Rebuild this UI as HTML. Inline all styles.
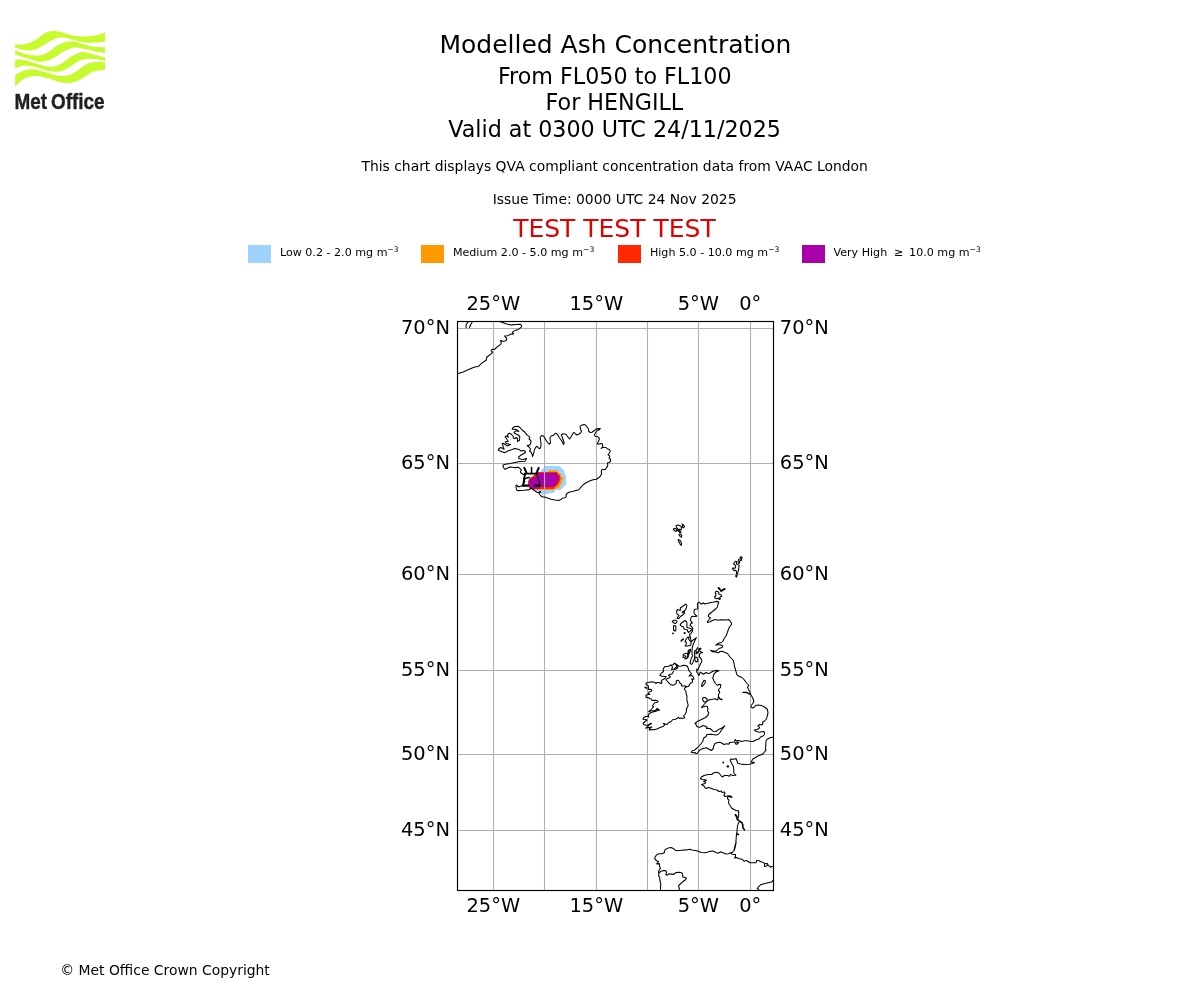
<!DOCTYPE html>
<html lang="en"><head><meta charset="utf-8"><title>Modelled Ash Concentration</title>
<style>html,body{margin:0;padding:0;background:#fff}body{width:1200px;height:1000px;overflow:hidden}svg{display:block}text{font-family:'DejaVu Sans','Liberation Sans',sans-serif;fill:#000}</style>
</head><body>
<svg width="1200" height="1000" viewBox="0 0 1200 1000">
<rect width="1200" height="1000" fill="#fff"/>
<g fill="#c7fb2e">
<path d="M15.17 43.92 C16.39 44.01 19.19 45.12 22.50 44.50 C25.81 43.88 31.25 42.07 35.00 40.17 C38.75 38.26 41.94 34.61 45.00 33.08 C48.06 31.56 50.28 31.07 53.33 31.00 C56.39 30.93 60.00 31.90 63.33 32.67 C66.67 33.43 69.72 34.96 73.33 35.58 C76.94 36.21 81.11 36.49 85.00 36.42 C88.89 36.35 93.33 35.86 96.67 35.17 C100.00 34.47 103.61 32.74 105.00 32.25 L105.00 41.42 C103.89 41.56 100.97 42.04 98.33 42.25 C95.69 42.46 92.36 42.81 89.17 42.67 C85.97 42.53 82.36 42.08 79.17 41.42 C75.97 40.75 72.92 39.32 70.00 38.67 C67.08 38.01 64.17 37.50 61.67 37.50 C59.17 37.50 57.36 37.78 55.00 38.67 C52.64 39.56 50.42 41.17 47.50 42.83 C44.58 44.50 40.97 47.38 37.50 48.67 C34.03 49.96 30.39 50.72 26.67 50.58 C22.94 50.44 17.08 48.29 15.17 47.83 Z"/>
<path d="M15.17 50.58 C17.08 51.21 22.94 53.50 26.67 54.33 C30.39 55.17 34.31 55.72 37.50 55.58 C40.69 55.44 42.64 55.10 45.83 53.50 C49.03 51.90 53.19 47.94 56.67 46.00 C60.14 44.06 63.89 42.60 66.67 41.83 C69.44 41.07 70.83 41.14 73.33 41.42 C75.83 41.69 78.61 42.67 81.67 43.50 C84.72 44.33 87.78 45.79 91.67 46.42 C95.56 47.04 102.78 47.11 105.00 47.25 L105.00 53.08 C103.61 52.87 99.72 52.46 96.67 51.83 C93.61 51.21 89.72 50.03 86.67 49.33 C83.61 48.64 80.83 47.88 78.33 47.67 C75.83 47.46 74.17 47.39 71.67 48.08 C69.17 48.78 66.25 50.24 63.33 51.83 C60.42 53.43 57.08 56.14 54.17 57.67 C51.25 59.19 48.61 60.38 45.83 61.00 C43.06 61.62 40.69 61.90 37.50 61.42 C34.31 60.93 30.39 59.19 26.67 58.08 C22.94 56.97 17.08 55.31 15.17 54.75 Z"/>
<path d="M15.17 59.75 C16.39 59.75 19.47 59.26 22.50 59.75 C25.53 60.24 29.58 61.62 33.33 62.67 C37.08 63.71 41.67 65.38 45.00 66.00 C48.33 66.62 50.56 66.83 53.33 66.42 C56.11 66.00 58.75 65.10 61.67 63.50 C64.58 61.90 67.92 58.64 70.83 56.83 C73.75 55.03 76.81 53.43 79.17 52.67 C81.53 51.90 82.64 51.97 85.00 52.25 C87.36 52.53 90.00 53.43 93.33 54.33 C96.67 55.24 103.06 57.11 105.00 57.67 L105.00 61.17 C103.61 60.86 99.31 59.75 96.67 59.33 C94.03 58.92 91.53 58.64 89.17 58.67 C86.81 58.69 84.86 58.75 82.50 59.50 C80.14 60.25 77.78 61.53 75.00 63.17 C72.22 64.81 68.75 67.89 65.83 69.33 C62.92 70.78 60.28 71.56 57.50 71.83 C54.72 72.11 52.36 71.69 49.17 71.00 C45.97 70.31 41.67 68.53 38.33 67.67 C35.00 66.81 31.94 66.11 29.17 65.83 C26.39 65.56 24.00 65.56 21.67 66.00 C19.33 66.44 16.25 68.08 15.17 68.50 Z"/>
<path d="M15.17 75.17 C16.39 74.47 19.89 71.97 22.50 71.00 C25.11 70.03 28.06 69.47 30.83 69.33 C33.61 69.19 35.97 69.47 39.17 70.17 C42.36 70.86 46.53 72.53 50.00 73.50 C53.47 74.47 56.94 75.72 60.00 76.00 C63.06 76.28 65.56 76.00 68.33 75.17 C71.11 74.33 73.89 72.67 76.67 71.00 C79.44 69.33 82.22 66.62 85.00 65.17 C87.78 63.71 90.00 62.74 93.33 62.25 C96.67 61.76 103.06 62.25 105.00 62.25 L105.00 70.00 C103.89 70.07 100.56 70.03 98.33 70.42 C96.11 70.81 94.17 71.13 91.67 72.33 C89.17 73.54 86.11 76.08 83.33 77.67 C80.56 79.25 77.78 80.93 75.00 81.83 C72.22 82.74 69.58 83.15 66.67 83.08 C63.75 83.01 60.69 82.25 57.50 81.42 C54.31 80.58 50.83 78.99 47.50 78.08 C44.17 77.18 40.56 76.21 37.50 76.00 C34.44 75.79 31.94 76.00 29.17 76.83 C26.39 77.67 23.17 79.33 20.83 81.00 C18.50 82.67 16.11 85.86 15.17 86.83 Z"/>
</g>
<text transform="translate(14.6 108.8) scale(0.893 1)" style="font-family:'Liberation Sans',sans-serif;font-weight:bold;font-size:21.2px;fill:#231f20;stroke:#231f20;stroke-width:0.4px;word-spacing:-1.6px">Met Office</text>
<text x="615.40" y="53.30" font-size="25.00px" text-anchor="middle">Modelled Ash Concentration</text>
<text x="614.80" y="83.70" font-size="22.22px" text-anchor="middle">From FL050 to FL100</text>
<text x="614.40" y="109.90" font-size="22.22px" text-anchor="middle">For HENGILL</text>
<text x="614.60" y="137.00" font-size="22.22px" text-anchor="middle">Valid at 0300 UTC 24/11/2025</text>
<text x="614.70" y="171.00" font-size="13.89px" text-anchor="middle">This chart displays QVA compliant concentration data from VAAC London</text>
<text x="614.60" y="204.00" font-size="13.89px" text-anchor="middle">Issue Time: 0000 UTC 24 Nov 2025</text>
<text x="614.40" y="237.30" font-size="25.00px" text-anchor="middle" style="fill:#e00000">TEST TEST TEST</text>
<rect x="248" y="245" width="23" height="18" fill="#a0d2ff"/>
<text x="279.9" y="256" font-size="11.11px">Low 0.2 - 2.0 mg m<tspan font-size="7.6px" dy="-3.7">−3</tspan></text>
<rect x="421" y="245" width="23" height="18" fill="#ff9900"/>
<text x="452.9" y="256" font-size="11.11px">Medium 2.0 - 5.0 mg m<tspan font-size="7.6px" dy="-3.7">−3</tspan></text>
<rect x="618" y="245" width="23" height="18" fill="#ff2800"/>
<text x="649.9" y="256" font-size="11.11px">High 5.0 - 10.0 mg m<tspan font-size="7.6px" dy="-3.7">−3</tspan></text>
<rect x="802" y="245" width="23" height="18" fill="#aa00aa"/>
<text x="833.4" y="256" font-size="11.11px">Very High<tspan dx="6.8">≥</tspan><tspan dx="5.8">10.0 mg m</tspan><tspan font-size="7.6px" dy="-3.7">−3</tspan></text>
<defs><clipPath id="mc"><rect x="457.50" y="321.50" width="316.00" height="569.00"/></clipPath></defs>
<g clip-path="url(#mc)">
<g shape-rendering="crispEdges">
<path d="M545.8 466.0 L558.8 466.0 L561.7 467.8 L563.8 470.8 L565.8 475.8 L565.8 484.5 L563.8 487.0 L560.8 489.7 L555.8 489.9 L553.8 492.8 L548.8 493.0 L548.5 494.1 L542.5 494.5 L540.8 493.7 L539.6 492.6 L538.3 491.2 L535.8 490.3 L532.5 489.8 L532.5 482.8 L537.5 472.0 L540.8 471.6 L541.7 469.9 L543.3 467.8Z" fill="#a0d2ff"/>
<path d="M548.3 471.0 L550.0 469.9 L555.8 469.9 L557.1 471.2 L559.2 472.8 L561.7 475.8 L562.9 477.8 L562.9 479.5 L561.7 480.8 L561.7 482.8 L560.0 485.3 L560.0 486.6 L557.5 488.2 L553.8 489.7 L538.8 489.7 L532.5 489.8 L529.2 488.7 L527.7 485.8 L527.7 481.2 L529.6 478.0 L532.5 476.0 L534.2 474.9 L536.5 472.0 L547.5 472.0Z" fill="#ff9900"/>
<path d="M536.5 472.0 L556.7 472.0 L560.0 475.8 L560.6 478.7 L560.0 481.6 L557.5 485.3 L555.4 487.4 L553.8 488.7 L532.5 489.5 L529.6 488.2 L528.1 485.3 L528.1 481.6 L529.8 478.7 L532.5 476.6 L534.6 475.3Z" fill="#ff2800"/>
<path d="M537.3 472.9 L556.2 472.9 L559.0 476.4 L559.0 479.5 L557.5 482.0 L555.4 485.3 L554.0 486.9 L540.0 486.9 L539.6 488.5 L532.5 488.9 L530.0 487.8 L529.0 485.8 L528.8 481.6 L530.4 478.9 L532.9 477.2 L536.0 476.0 L536.9 474.1Z" fill="#aa00aa"/>
</g>
<g stroke="#b0b0b0" stroke-width="1.1" fill="none">
<line x1="493.50" y1="321.50" x2="493.50" y2="890.50"/>
<line x1="544.50" y1="321.50" x2="544.50" y2="890.50"/>
<line x1="596.50" y1="321.50" x2="596.50" y2="890.50"/>
<line x1="647.50" y1="321.50" x2="647.50" y2="890.50"/>
<line x1="698.50" y1="321.50" x2="698.50" y2="890.50"/>
<line x1="750.50" y1="321.50" x2="750.50" y2="890.50"/>
<line x1="457.50" y1="328.50" x2="773.50" y2="328.50"/>
<line x1="457.50" y1="463.50" x2="773.50" y2="463.50"/>
<line x1="457.50" y1="574.50" x2="773.50" y2="574.50"/>
<line x1="457.50" y1="670.50" x2="773.50" y2="670.50"/>
<line x1="457.50" y1="754.50" x2="773.50" y2="754.50"/>
<line x1="457.50" y1="830.50" x2="773.50" y2="830.50"/>
</g>
<g fill="none" stroke="#000" stroke-width="1.06" stroke-linejoin="round" stroke-linecap="round">
<path d="M457.2 373.8 L463.2 372.0 L469.2 369.3 L474.0 367.2 L478.5 366.3 L481.2 363.6 L486.0 360.3 L486.9 357.0 L489.0 355.5 L491.4 353.7 L492.6 352.2 L491.1 350.7 L492.0 349.2 L494.4 349.5 L498.0 346.2 L500.7 344.4 L501.3 342.6 L500.4 340.5 L504.0 341.4 L506.4 340.2 L506.7 338.7 L505.5 337.2 L504.6 336.0 L507.6 335.7 L510.6 334.2 L513.6 333.9 L512.4 332.1 L514.8 330.6 L518.4 329.4 L521.1 327.3 L521.7 325.5 L520.5 324.3 L516.0 324.5 L511.8 324.9 L507.6 324.3 L504.0 323.1 L500.4 321.7 L499.2 321.0"/>
<path d="M468.6 321.3 L467.3 322.8 L466.3 324.5 L466.0 326.2 L466.2 327.8"/>
<path d="M472.6 321.5 L471.6 323.0 L470.7 324.6 L470.0 326.3 L469.4 327.9"/>
<path d="M503.2 466.5 L503.0 465.0 L505.5 464.2 L510.5 463.5 L515.0 462.5 L520.0 461.5 L525.0 461.2 L526.0 459.5 L526.5 458.5 L525.0 458.8 L523.5 459.5 L521.0 459.2 L519.0 458.5 L518.5 457.2 L520.0 455.8 L522.5 454.2 L525.5 452.5 L525.0 451.0 L523.0 450.5 L521.0 451.0 L519.5 449.8 L517.5 449.0 L514.5 448.6 L511.5 449.8 L508.5 450.8 L504.5 452.8 L501.5 451.5 L498.2 450.2 L498.8 449.0 L500.5 447.5 L502.5 448.2 L504.2 449.2 L503.2 447.2 L502.8 445.0 L502.2 443.8 L503.2 443.2 L505.2 444.5 L507.5 446.0 L509.0 445.2 L510.5 444.5 L508.5 444.0 L506.5 443.5 L505.2 442.0 L506.5 441.5 L508.2 441.2 L507.2 439.8 L506.2 438.2 L505.2 436.8 L506.5 436.0 L508.5 437.2 L507.5 435.5 L508.2 433.8 L509.5 433.2 L511.5 434.5 L513.0 436.0 L513.5 438.2 L515.0 438.5 L516.2 437.5 L517.5 438.5 L517.5 441.5 L519.5 440.2 L519.8 436.5 L518.2 435.0 L516.0 434.0 L514.2 432.8 L515.0 431.2 L516.8 430.8 L518.8 431.5 L517.0 429.8 L514.5 429.2 L512.2 429.2 L512.8 427.8 L514.5 426.5 L518.0 426.2 L520.0 427.5 L522.0 430.0 L524.5 431.8 L527.0 434.8 L529.8 437.2 L529.0 439.0 L530.8 440.5 L531.0 442.0 L530.2 444.5 L528.5 445.5 L527.2 445.5 L529.0 447.0 L530.5 449.0 L529.5 451.2 L531.0 452.0 L532.0 454.0 L532.5 456.5 L533.5 454.0 L534.5 449.5 L536.0 447.0 L537.2 446.2 L538.5 448.0 L539.8 448.8 L540.8 447.0 L541.0 443.5 L540.5 440.0 L540.2 437.2 L541.5 435.5 L543.2 435.8 L544.5 437.5 L546.0 440.0 L547.5 442.5 L549.2 444.2 L549.2 444.0 L550.5 443.0 L550.2 440.0 L550.0 437.5 L551.2 436.0 L553.5 435.2 L555.8 433.2 L557.5 434.5 L559.5 438.0 L561.5 440.5 L562.8 443.0 L563.5 444.5 L564.2 442.8 L563.2 440.0 L562.2 437.0 L561.2 434.8 L562.5 433.8 L566.0 434.2 L568.0 437.0 L569.5 439.0 L571.5 436.0 L573.2 433.0 L574.2 432.5 L575.5 434.0 L577.0 435.0 L579.0 434.0 L580.5 433.0 L581.5 431.2 L580.5 429.0 L580.0 426.8 L581.0 425.5 L584.0 424.5 L585.5 425.0 L587.0 427.0 L588.5 429.0 L588.5 431.0 L590.2 432.5 L592.0 432.2 L594.0 430.8 L595.8 429.2 L597.8 428.5 L600.2 428.5 L599.0 429.8 L597.0 430.5 L595.5 432.8 L594.2 435.2 L595.5 436.5 L598.0 436.8 L599.5 438.8 L598.5 441.5 L597.2 443.5 L598.2 444.2 L601.0 443.5 L602.5 444.0 L602.8 447.0 L602.8 447.2 L606.0 447.5 L607.5 449.0 L609.5 449.5 L610.2 450.8 L609.5 453.0 L608.0 454.5 L609.8 456.2 L609.0 458.2 L610.5 459.5 L610.5 461.5 L609.0 462.5 L607.5 462.8 L607.8 465.0 L607.0 467.2 L605.2 469.5 L603.2 469.5 L602.0 469.5 L601.2 471.5 L601.6 473.8 L600.5 476.0 L598.5 477.8 L596.5 479.2 L593.0 479.8 L589.5 481.0 L586.0 482.8 L583.5 484.5 L581.0 487.2 L579.0 489.5 L579.0 489.8 L576.0 490.5 L572.5 491.5 L569.0 492.2 L566.8 493.5 L566.0 495.5 L566.2 496.5 L565.0 497.8 L562.5 498.0 L561.0 499.5 L558.5 500.5 L555.0 500.0 L551.0 499.2 L547.5 498.0 L544.5 497.0 L542.5 497.0 L540.5 495.5 L539.0 493.5 L539.2 492.2 L537.5 492.5 L535.0 491.0 L532.5 489.0 L531.0 488.2 L530.8 488.4 L529.6 489.6 L524.0 490.2 L517.8 490.6 L516.6 490.0 L516.2 488.0 L516.0 485.4 L516.8 485.0 L518.0 486.6 L520.0 486.6 L522.0 485.8 L523.6 484.0 L524.8 481.6 L523.6 479.6 L524.0 477.6 L524.8 475.2 L522.8 474.0 L520.8 472.8 L520.4 471.2 L521.6 470.0 L520.4 468.8 L518.4 467.4 L514.0 467.6 L510.0 467.0 L507.6 468.0 L505.2 469.4 L503.4 467.6 L503.0 465.6Z"/>
<path d="M602.8 447.0 L601.2 448.5"/>
<path d="M597.8 428.5 L600.2 428.5 L599.0 429.8Z"/>
<path d="M676.1 525.5 L678.2 525.1 L680.0 525.8 L681.5 526.7 L681.2 528.2 L681.5 529.4 L680.0 529.9 L679.1 529.1 L678.2 530.0 L677.6 528.5 L676.7 527.6 L676.1 526.4Z"/>
<path d="M682.1 524.0 L683.3 524.9 L684.5 526.4 L683.6 527.9 L682.4 527.3 L682.7 525.8Z"/>
<path d="M673.3 529.1 L674.9 528.5 L676.4 528.8 L677.0 530.6 L675.8 531.5 L674.3 530.6Z"/>
<path d="M677.0 530.0 L678.8 530.6 L680.6 531.2 L680.9 532.7 L679.7 532.7 L679.1 531.5Z"/>
<path d="M679.1 534.2 L680.6 534.2 L681.8 535.7 L681.5 537.2 L680.3 536.6 L679.3 535.4Z"/>
<path d="M678.2 539.6 L679.7 540.2 L680.9 541.4 L681.5 543.8 L681.4 545.3 L680.5 545.0 L679.4 542.6 L678.4 541.1Z"/>
<path d="M735.7 561.2 L736.7 561.9 L736.4 564.0 L739.2 565.4 L738.8 568.2 L738.1 571.7 L737.4 574.2 L736.4 573.8 L736.7 571.7 L735.7 570.3 L734.1 570.7 L733.6 569.6 L732.3 568.9 L733.2 567.9 L735.0 568.2 L735.7 566.8 L735.3 565.1 L733.6 564.0 L734.3 562.6Z"/>
<path d="M738.5 559.5 L740.2 559.1 L741.6 558.8 L742.1 557.4 L741.3 556.7 L740.0 557.5 L741.6 558.4 L741.6 560.2 L740.2 560.5 L739.5 561.6 L739.5 563.3 L738.5 563.3 L738.1 561.6Z"/>
<path d="M736.0 575.2 L737.1 575.6 L736.5 577.0 L735.7 576.3Z"/>
<path d="M715.5 591.8 L717.2 591.2 L718.8 592.5 L719.0 594.2 L721.0 594.8 L721.8 596.0 L720.0 597.2 L720.2 599.2 L719.2 599.5 L718.8 598.0 L717.0 598.8 L715.2 598.5 L714.5 596.8 L715.8 596.0 L716.0 594.2 L715.2 593.2Z"/>
<path d="M718.2 587.5 L719.5 588.0 L720.5 589.8 L721.2 590.8 L723.0 589.2 L725.0 588.5 L725.0 589.2 L723.0 590.2 L721.0 591.5 L720.0 590.0 L718.5 588.5Z"/>
<path d="M685.5 604.2 L686.8 605.2 L686.5 607.5 L685.5 609.8 L684.0 611.2 L684.5 613.2 L683.0 614.8 L680.5 616.5 L678.5 618.8 L677.2 618.2 L678.2 616.5 L679.0 615.2 L677.2 614.5 L676.5 611.5 L677.5 609.5 L679.0 610.2 L680.5 610.2 L680.2 608.0 L682.5 606.5Z"/>
<path d="M682.0 612.0 L684.0 611.2 L683.2 612.8Z"/>
<path d="M672.2 621.5 L674.0 620.2 L676.0 620.2 L677.0 621.5 L676.2 623.0 L675.0 623.5 L673.5 622.8Z"/>
<path d="M673.5 626.0 L674.5 625.5 L675.8 626.2 L675.8 630.5 L674.8 631.2 L673.5 630.0Z"/>
<path d="M684.8 620.5 L686.5 621.5 L687.0 624.0 L686.8 627.0 L688.0 627.8 L691.2 628.8 L692.0 629.5 L690.5 630.8 L688.5 632.5 L687.5 631.0 L687.5 629.8 L685.5 629.5 L684.2 629.0 L683.2 626.8 L681.5 626.2 L680.2 625.0 L680.8 623.5 L683.0 622.0Z"/>
<path d="M681.2 641.0 L682.2 639.8 L683.2 639.2" stroke-width="1.6"/>
<path d="M687.5 637.2 L689.5 637.0 L688.5 638.8 L689.5 640.5 L691.2 641.5 L690.8 645.2 L687.5 646.0 L685.0 646.0 L686.0 644.5 L686.5 642.8 L685.0 641.5 L686.0 639.5Z"/>
<path d="M750.2 694.0 L748.5 693.8 L747.0 692.5 L743.0 692.4" stroke-width="1.3"/>
<path d="M735.0 742.8 L737.8 741.9 L738.8 742.6 L737.2 744.1 L735.5 743.9Z"/>
<path d="M773.8 737.1 L770.0 737.8 L767.2 739.2 L766.0 741.0 L765.8 745.0 L765.5 749.0 L766.0 750.2 L764.5 752.0 L762.8 754.0"/>
<path d="M707.2 699.0 L705.0 697.5 L703.2 697.5 L702.5 699.2 L703.5 701.5 L705.5 702.2 L707.2 700.8Z"/>
<path d="M718.5 697.0 L720.0 699.0 L721.8 699.5" stroke-width="1.4"/>
<path d="M690.6 649.4 L690.0 651.6 L688.8 654.0 L688.0 656.4 L687.4 657.6 L688.0 654.8 L688.4 652.0 L688.0 651.2 L689.2 650.0Z" stroke-width="1.3"/>
<path d="M683.2 654.4 L685.2 653.6 L687.2 653.2 L688.0 654.8 L687.8 657.6 L686.4 658.6 L685.2 659.0 L684.4 657.6 L683.0 657.2Z"/>
<path d="M684.0 655.8 L685.6 656.0 L686.0 657.6"/>
<path d="M695.0 657.0 L696.8 657.2 L697.8 659.2 L697.6 661.6 L695.6 661.6 L694.8 659.6Z"/>
<path d="M696.2 653.4 L697.8 652.2" stroke-width="1.8"/>
<path d="M699.0 649.4 L700.6 648.6" stroke-width="1.8"/>
<path d="M704.0 680.2 L705.5 681.0 L705.0 683.0 L703.5 685.2 L702.2 686.5 L701.5 686.0 L702.2 683.5Z"/>
<path d="M697.5 603.5 L699.0 602.2 L701.5 604.2 L703.5 602.8 L704.8 604.0 L710.0 602.8 L714.0 602.0 L716.0 601.4 L718.2 601.6 L718.8 602.8 L717.8 604.5 L717.5 607.0 L716.0 608.5 L712.5 611.5 L708.8 614.5 L708.2 616.2 L709.2 617.2 L710.5 617.5 L709.2 619.5 L707.5 621.5 L707.5 622.5 L710.0 621.8 L712.5 620.5 L715.5 619.5 L718.2 620.2 L720.5 619.8 L726.5 620.0 L728.2 619.5 L730.0 620.8 L731.5 623.2 L731.5 624.5 L729.5 627.0 L728.2 630.0 L727.2 633.0 L726.0 636.0 L724.2 638.5 L723.0 641.0 L721.5 642.5 L719.0 643.0 L717.0 644.2 L715.8 645.2 L718.0 644.5 L720.5 644.8 L722.8 646.0 L722.0 647.5 L719.0 648.5 L717.0 650.5 L715.0 651.2 L712.5 650.8 L710.5 650.2 L712.5 651.8 L715.5 652.0 L718.5 652.8 L720.0 651.5 L722.0 651.2 L724.5 652.2 L727.5 653.5 L730.0 657.0 L733.0 660.0 L734.0 663.5 L734.8 667.5 L736.0 671.5 L737.0 674.8 L738.5 676.0 L742.0 677.5 L744.0 679.5 L746.5 683.0 L749.0 685.5 L747.5 687.2 L748.5 689.5 L750.0 692.5 L751.0 695.0 L753.0 698.5 L753.8 701.5 L752.5 704.0 L751.0 705.5 L751.2 707.2 L753.0 708.0 L754.0 707.5 L755.5 705.5 L758.0 705.0 L761.5 705.5 L764.5 707.0 L767.0 709.0 L767.5 709.8 L768.0 713.0 L767.2 716.0 L766.5 719.0 L764.5 721.0 L762.5 722.2 L763.0 723.8 L761.5 725.0 L759.5 724.5 L757.8 725.8 L759.5 727.2 L759.0 728.5 L757.0 729.5 L754.2 730.0 L756.5 731.5 L759.5 732.2 L763.0 731.5 L764.5 732.0 L764.5 734.5 L763.0 736.0 L760.5 737.0 L759.0 739.0 L756.5 739.8 L753.0 741.5 L750.5 741.5 L747.5 740.8 L744.5 740.8 L741.5 741.5 L739.5 740.8 L739.0 740.5 L736.0 740.8 L735.5 739.5 L734.0 742.0 L732.0 742.2 L729.5 742.5 L729.0 744.2 L726.5 743.8 L724.0 744.5 L722.0 743.2 L720.0 742.2 L718.0 742.5 L715.0 743.5 L713.8 746.0 L713.0 749.0 L711.2 750.5 L709.0 749.2 L706.5 747.8 L703.5 748.5 L701.0 749.2 L698.8 751.0 L697.5 753.2 L696.0 753.5 L694.8 752.5 L693.0 752.8 L691.2 752.2 L692.5 750.5 L694.5 750.2 L697.0 748.0 L699.5 745.5 L702.8 741.5 L703.5 738.2 L706.0 736.5 L707.0 734.5 L711.0 734.2 L716.0 735.0 L718.0 734.5 L720.0 732.5 L721.5 730.0 L722.0 729.5 L724.8 725.8 L722.0 728.0 L719.0 729.2 L716.0 731.5 L713.0 731.2 L710.0 728.5 L706.5 728.5 L707.2 727.2 L705.0 726.0 L703.0 725.5 L700.0 727.2 L698.0 727.0 L696.5 726.0 L695.5 723.5 L697.0 721.5 L699.0 720.8 L702.0 719.2 L705.5 717.5 L707.8 715.5 L708.8 712.5 L707.5 711.0 L708.0 709.0 L707.2 706.2 L705.0 706.2 L703.0 707.0 L701.5 707.5 L703.5 705.0 L705.5 703.0 L707.2 700.8 L709.5 699.8 L712.5 699.2 L715.0 698.8 L717.5 700.0 L718.5 697.0 L718.5 694.5 L719.8 692.2 L718.5 690.0 L718.5 691.0 L718.5 689.5 L720.5 687.5 L720.8 684.5 L719.5 684.2 L717.5 685.5 L715.5 683.5 L714.0 681.0 L712.8 678.0 L714.0 674.0 L716.5 671.7 L719.0 670.8 L715.5 670.4 L712.8 671.2 L709.5 673.2 L708.0 673.5 L706.0 672.5 L703.5 674.2 L700.5 672.2 L699.8 673.0 L699.0 675.5 L697.6 673.5 L696.5 671.2 L696.4 671.2 L697.6 670.0 L698.6 668.4 L699.4 666.4 L700.4 664.0 L701.6 662.0 L701.8 660.0 L700.8 658.4 L699.4 656.8 L699.6 654.0 L700.8 653.0 L702.6 652.6 L700.0 651.2 L699.2 650.0 L700.4 648.4 L699.2 650.0 L697.8 652.4 L696.4 653.2 L696.0 650.8 L697.8 647.6 L696.4 649.6 L694.6 651.2 L694.4 653.2 L694.8 655.6 L694.6 658.0 L693.6 660.8 L692.4 663.6 L691.4 664.4 L690.0 663.2 L690.4 661.2 L691.4 658.0 L692.8 655.8 L692.0 654.4 L692.0 651.6 L692.2 648.0 L693.2 644.4 L694.8 640.8 L696.4 637.6 L691.2 641.5 L690.2 636.5 L689.5 634.5 L691.2 633.2 L692.5 631.0 L692.8 628.5 L691.5 626.5 L690.0 625.5 L690.8 623.8 L692.5 622.8 L691.5 622.0 L690.5 620.5 L691.0 617.5 L692.0 616.2 L696.0 616.5 L696.8 616.0 L695.5 615.0 L694.0 613.0 L694.2 610.0 L695.0 609.2 L697.8 609.0 L697.6 606.0 L697.5 603.5Z"/>
<path d="M674.5 663.2 L676.5 664.5 L679.0 666.2 L681.5 666.0 L683.5 665.2 L686.0 665.5 L687.5 666.5 L688.5 669.0 L689.0 670.8 L690.5 672.5 L691.5 673.5 L690.0 674.8 L689.2 676.0 L692.0 675.5 L693.5 677.0 L693.8 679.2 L691.5 679.0 L692.5 680.5 L692.2 682.5 L690.0 683.5 L689.2 685.5 L688.0 686.5 L686.0 687.0 L684.8 688.0 L684.5 689.5 L685.8 691.0 L686.2 694.0 L687.0 696.0 L686.8 699.5 L687.5 702.5 L688.2 705.5 L687.0 707.5 L686.2 710.0 L686.8 709.0 L686.2 712.0 L685.0 714.5 L683.5 716.0 L684.8 717.5 L683.0 718.5 L681.0 718.0 L679.5 718.5 L678.5 717.2 L677.5 718.2 L675.5 719.2 L673.0 719.5 L671.0 721.5 L668.5 722.8 L667.0 724.5 L665.5 724.0 L663.2 723.5 L665.0 724.5 L663.5 726.2 L660.0 727.5 L657.5 728.8 L654.5 729.8 L651.0 729.5 L649.5 730.2 L649.2 728.8 L650.5 728.0 L651.8 727.0 L650.5 727.2 L648.0 727.5 L645.8 728.2 L646.8 727.2 L648.0 726.5 L649.0 725.0 L651.5 723.5 L650.5 723.5 L648.0 725.2 L646.0 725.2 L643.5 724.5 L643.2 723.2 L645.0 721.5 L647.0 720.0 L645.5 719.5 L643.0 719.2 L643.5 717.8 L645.5 716.5 L648.2 716.5 L648.8 717.2 L648.2 715.5 L649.0 714.0 L651.0 712.5 L655.0 711.5 L657.0 710.8 L659.5 710.2 L657.8 708.8 L657.0 709.2 L655.0 710.5 L651.5 710.8 L648.5 711.8 L650.5 710.0 L652.0 708.5 L653.5 706.8 L652.5 705.8 L653.5 704.5 L654.5 702.8 L656.5 702.5 L658.2 701.5 L657.2 700.5 L655.0 700.2 L652.0 700.5 L651.5 699.0 L650.0 698.8 L648.2 697.5 L646.0 697.5 L646.0 695.0 L648.2 694.5 L650.0 694.5 L648.2 693.5 L649.0 692.0 L651.0 691.5 L651.8 690.0 L650.5 689.2 L648.0 689.5 L648.5 688.0 L648.2 685.8 L646.0 684.5 L646.2 682.8 L648.5 682.5 L651.5 681.8 L654.5 682.2 L655.8 683.5 L657.0 682.5 L659.0 682.5 L661.0 683.5 L662.0 683.0 L661.2 681.5 L662.0 680.0 L664.0 679.0 L665.5 677.8 L666.2 676.5 L664.0 676.5 L661.0 676.0 L659.8 675.0 L661.5 673.2 L663.5 671.5 L663.2 669.2 L664.5 666.8 L668.5 666.2 L670.5 665.2 L673.0 664.8Z"/>
<path d="M670.5 665.2 L672.0 665.8 L672.5 667.5 L671.5 669.5 L673.5 669.2 L676.0 667.5 L677.2 665.8 L674.5 663.2"/>
<path d="M677.2 666.0 L677.5 668.0 L675.0 669.5" stroke-width="1.4"/>
<path d="M673.5 671.5 L672.2 673.8 L669.0 674.8 L668.5 675.5 L670.2 676.2 L670.0 677.5 L667.2 678.8 L666.0 679.2 L667.0 681.0 L669.0 683.2 L671.0 684.8 L673.0 685.2 L675.0 684.5 L676.5 683.0 L676.0 681.5 L677.0 680.2 L678.5 680.5 L679.5 682.0 L680.0 683.2 L681.5 684.2 L681.8 686.2 L683.5 686.0 L685.2 685.8 L686.5 686.8"/>
<path d="M645.2 687.4 L646.6 688.0" stroke-width="1.6"/>
<path d="M695.0 723.2 L696.0 723.2" stroke-width="1.2"/>
<path d="M762.8 754.0 L758.0 756.0 L753.0 759.0 L751.0 762.0 L754.5 762.5 L752.0 763.6 L749.5 764.3 L744.0 764.5"/>
<path d="M744.0 764.5 L740.5 764.0 L737.8 763.2 L736.8 760.5 L736.0 758.5 L734.0 759.2 L730.8 759.0 L730.2 760.5 L731.8 763.5 L733.5 766.8 L733.8 770.5 L733.8 773.0 L735.8 775.2 L735.8 775.2 L733.0 775.5 L730.5 774.5 L729.5 776.2 L727.5 775.5 L724.5 775.5 L722.2 777.0 L720.5 775.0 L719.0 773.0 L716.5 772.2 L714.0 772.8 L711.5 774.5 L708.0 774.5 L704.0 775.5 L701.2 777.2 L700.5 778.8 L702.5 779.5 L705.5 779.8 L706.5 780.5 L703.5 781.2 L705.5 782.2 L705.0 783.5 L701.5 784.5 L704.0 786.0 L705.0 787.8 L706.2 788.5 L708.5 787.5 L711.0 788.2 L714.0 789.5 L717.0 790.0 L719.0 791.5 L721.2 791.0 L722.0 792.5 L724.5 792.0 L725.0 793.5 L723.8 795.5 L725.0 796.5 L727.5 796.0 L729.5 795.8 L731.5 796.5 L732.0 797.5 L729.0 796.5 L727.5 797.2 L727.5 798.8 L729.0 800.0 L728.5 802.5 L729.0 804.0 L730.5 806.0 L731.5 808.0 L734.0 809.5 L736.0 810.5 L738.2 811.0 L738.0 810.5 L738.8 812.0 L738.5 817.0 L737.5 818.5 L739.5 821.2 L738.0 824.0 L737.2 828.0 L737.0 832.0 L736.5 834.0 L736.2 838.0 L735.8 843.0 L734.5 848.0 L734.0 850.0 L736.2 842.0 L735.5 846.0 L734.2 850.5 L732.5 852.2 L731.0 852.8 L728.5 853.8 L726.0 854.0 L723.5 853.0 L720.5 851.8 L718.2 853.2 L716.0 852.5 L714.0 851.5 L713.0 851.0 L710.1 851.3 L707.2 852.2 L704.2 852.8 L701.3 852.5 L698.4 851.3 L695.5 850.5 L692.0 849.9 L689.7 849.3 L686.2 849.9 L681.5 850.2 L676.8 850.7 L675.1 850.2 L673.3 848.4 L671.0 847.5 L668.1 848.1 L665.7 849.3 L664.3 851.0 L664.6 852.5 L661.7 853.7 L658.7 853.7 L656.4 855.1 L654.7 857.5 L655.2 859.5 L657.0 861.0 L658.7 861.5 L656.7 863.9 L659.3 863.6 L659.6 866.5 L660.5 868.5 L659.3 869.7 L658.5 871.7 L659.0 873.8 L658.5 875.8 L659.6 877.0 L659.9 880.5 L660.8 884.0 L660.5 887.5 L660.5 891.0"/>
<path d="M735.5 814.8 L737.0 817.2 L737.5 819.8" stroke-width="1.8"/>
<path d="M739.5 821.2 L741.8 822.5 L742.8 825.0 L743.0 828.0 L744.5 829.8" stroke-width="1.6"/>
<path d="M737.1 834.0 L738.5 834.5" stroke-width="1.6"/>
<path d="M731.0 853.0 L732.0 854.2 L735.5 854.5 L735.5 856.5 L734.5 858.0 L736.5 857.5 L738.5 858.5 L742.0 859.2 L744.0 861.2 L746.5 860.5 L748.5 861.8 L750.0 862.8 L753.0 862.8 L756.0 862.8 L756.8 860.5 L758.5 860.5 L761.0 861.8 L763.5 862.5 L764.5 863.8 L767.5 863.5 L767.8 864.8 L770.5 867.2 L772.0 866.5 L773.8 866.5"/>
<path d="M764.5 863.8 L764.5 866.5 L766.0 866.2 L767.8 864.8"/>
<path d="M773.8 880.0 L771.5 882.0 L768.0 882.8 L764.0 883.8 L760.5 884.8 L758.5 886.8 L757.2 888.5 L758.5 889.2 L759.2 890.8"/>
<path d="M658.7 872.9 L661.1 871.2 L663.4 870.6 L665.7 870.6 L666.6 872.3 L665.7 874.4 L666.9 875.2 L669.2 873.8 L671.6 874.1 L673.9 874.4 L675.7 872.6 L679.2 872.3 L682.1 872.9 L682.7 874.7 L682.7 877.0 L685.6 877.6 L686.5 878.5 L685.0 880.2 L682.7 881.7 L680.3 884.0 L678.6 885.7 L679.2 888.1 L679.5 891.0"/>
<path d="M524.0 479.6 L526.4 478.0 L529.2 477.6" stroke-width="1.5"/>
</g>
<g fill="#000">
<circle cx="540.0" cy="492.0" r="1.1"/>
<circle cx="673.0" cy="633.4" r="0.9"/>
<circle cx="684.6" cy="633.1" r="1.1"/>
<circle cx="723.2" cy="762.5" r="0.9"/>
<circle cx="727.8" cy="766.4" r="1.2"/>
<circle cx="697.0" cy="669.4" r="0.8"/>
<circle cx="657.0" cy="708.9" r="1.0"/>
</g>
<g fill="none" stroke="#000" stroke-linecap="butt">
<path d="M529.0 485.65 L522.4 485.65" stroke-width="2.2"/>
<path d="M534.1 485.65 L540.6 485.65" stroke-width="2.2"/>
<path d="M524.3 473.6 L537.0 473.6" stroke-width="1.8"/>
<path d="M522.9 486.3 L525.2 473.2" stroke-width="1.8"/>
<path d="M536.6 473.0 L540.4 485.6" stroke-width="1.1"/>
<path d="M526.7 473.2 L523.9 467.1" stroke-width="2.0"/>
<path d="M531.55 473.6 L531.55 467.0" stroke-width="1.5"/>
<path d="M536.4 473.4 L539.0 467.1" stroke-width="2.0"/>
</g>
</g>
<rect x="457.50" y="321.50" width="316.00" height="569.00" fill="none" stroke="#000" stroke-width="1.15"/>
<text x="493.30" y="309.90" font-size="19.44px" text-anchor="middle">25°W</text>
<text x="493.30" y="912.00" font-size="19.44px" text-anchor="middle">25°W</text>
<text x="596.30" y="309.90" font-size="19.44px" text-anchor="middle">15°W</text>
<text x="596.30" y="912.00" font-size="19.44px" text-anchor="middle">15°W</text>
<text x="698.30" y="309.90" font-size="19.44px" text-anchor="middle">5°W</text>
<text x="698.30" y="912.00" font-size="19.44px" text-anchor="middle">5°W</text>
<text x="750.30" y="309.90" font-size="19.44px" text-anchor="middle">0°</text>
<text x="750.30" y="912.00" font-size="19.44px" text-anchor="middle">0°</text>
<text x="450.00" y="835.90" font-size="19.44px" text-anchor="end">45°N</text>
<text x="779.80" y="835.90" font-size="19.44px" text-anchor="start">45°N</text>
<text x="450.00" y="759.90" font-size="19.44px" text-anchor="end">50°N</text>
<text x="779.80" y="759.90" font-size="19.44px" text-anchor="start">50°N</text>
<text x="450.00" y="675.90" font-size="19.44px" text-anchor="end">55°N</text>
<text x="779.80" y="675.90" font-size="19.44px" text-anchor="start">55°N</text>
<text x="450.00" y="579.90" font-size="19.44px" text-anchor="end">60°N</text>
<text x="779.80" y="579.90" font-size="19.44px" text-anchor="start">60°N</text>
<text x="450.00" y="468.90" font-size="19.44px" text-anchor="end">65°N</text>
<text x="779.80" y="468.90" font-size="19.44px" text-anchor="start">65°N</text>
<text x="450.00" y="333.90" font-size="19.44px" text-anchor="end">70°N</text>
<text x="779.80" y="333.90" font-size="19.44px" text-anchor="start">70°N</text>
<text x="60.30" y="974.50" font-size="13.89px" text-anchor="start">© Met Office Crown Copyright</text>
</svg></body></html>
